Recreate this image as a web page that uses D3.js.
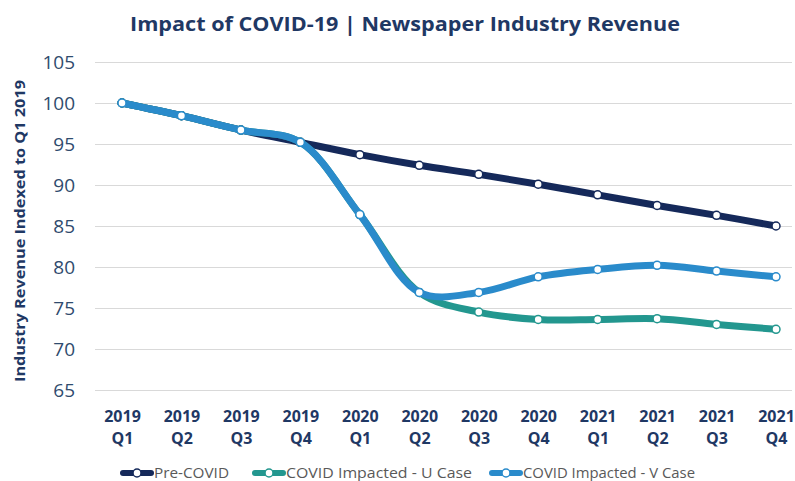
<!DOCTYPE html>
<html><head><meta charset="utf-8">
<script src="https://cdn.jsdelivr.net/npm/d3@7/dist/d3.min.js"></script>
<style>body{margin:0;background:#fff}svg{display:block}</style>
</head><body>
<svg id="chart" width="795" height="481"></svg>
<script>
const categories = ["2019|Q1","2019|Q2","2019|Q3","2019|Q4","2020|Q1","2020|Q2","2020|Q3","2020|Q4","2021|Q1","2021|Q2","2021|Q3","2021|Q4"];
const preCovid = [100, 98.45, 96.7, 95.2, 93.7, 92.4, 91.3, 90.1, 88.8, 87.5, 86.3, 85.0];
const uCase    = [100, 98.45, 96.7, 95.2, 86.4, 76.9, 74.5, 73.6, 73.6, 73.7, 73.0, 72.4];
const vCase    = [100, 98.45, 96.7, 95.2, 86.4, 76.9, 76.9, 78.8, 79.7, 80.2, 79.5, 78.8];
const yTicks   = [65, 70, 75, 80, 85, 90, 95, 100, 105];
const seriesNames = ["Pre-COVID", "COVID Impacted - U Case", "COVID Impacted - V Case"];
const seriesColors = ["#15295a", "#23978f", "#2a8bcb"];
const seriesValues = [preCovid, uCase, vCase];

const svg = d3.select("#chart");
const navy = "#1f3864";

const x = d3.scalePoint().domain(categories).range([122, 776]);
const y = d3.scaleLinear().domain([65, 105]).range([390, 62]);

// title
svg.append("text").attr("x", 405).attr("y", 31).attr("text-anchor", "middle")
  .attr("font-family", "Open Sans").attr("font-weight", 700).attr("font-size", 20)
  .attr("fill", navy).attr("textLength", 550).attr("lengthAdjust", "spacingAndGlyphs")
  .text("Impact of COVID-19 | Newspaper Industry Revenue");

// y axis title
svg.append("text").attr("transform", "translate(25,231) rotate(-90)").attr("text-anchor", "middle")
  .attr("font-family", "Open Sans").attr("font-weight", 700).attr("font-size", 14.5)
  .attr("fill", navy).attr("textLength", 302).attr("lengthAdjust", "spacingAndGlyphs")
  .text("Industry Revenue Indexed to Q1 2019");

// gridlines + y ticks
const yAxis = d3.axisLeft(y).tickValues(yTicks).tickSize(-(792 - 95)).tickPadding(20);
const gy = svg.append("g").attr("transform", "translate(95,0)").call(yAxis);
gy.select(".domain").remove();
gy.selectAll(".tick line").attr("stroke", "#d9d9d9").attr("stroke-width", 1.2);
gy.selectAll(".tick text").attr("font-family", "Open Sans").attr("font-size", 19)
  .attr("fill", "#2f4b6e").attr("x", -20);

// x labels
const xAxis = d3.axisBottom(x).tickSize(0).tickFormat("");
const gx = svg.append("g").attr("transform", "translate(0,390)").call(xAxis);
gx.select(".domain").remove();
gx.selectAll(".tick").each(function(d) {
  const parts = d.split("|");
  const g = d3.select(this);
  g.append("text").attr("y", 32).attr("text-anchor", "middle").attr("font-family", "Open Sans")
    .attr("font-weight", 700).attr("font-size", 16).attr("fill", navy).text(parts[0]);
  g.append("text").attr("y", 54).attr("text-anchor", "middle").attr("font-family", "Open Sans")
    .attr("font-weight", 700).attr("font-size", 16).attr("fill", navy).text(parts[1]);
});

// lines
const line = d3.line().x((d, i) => x(categories[i])).y(d => y(d)).curve(d3.curveCatmullRom.alpha(0.5));
seriesValues.forEach((vals, s) => {
  svg.append("path").datum(vals).attr("d", line).attr("fill", "none")
    .attr("stroke", seriesColors[s]).attr("stroke-width", 7).attr("stroke-linecap", "round");
  svg.append("g").selectAll("circle").data(vals).join("circle")
    .attr("cx", (d, i) => x(categories[i])).attr("cy", d => y(d)).attr("r", 4)
    .attr("fill", "#fff").attr("stroke", seriesColors[s]).attr("stroke-width", 1.5);
});

// legend
const legendX = [120, 252, 489];
const legendW = [75, 186, 172];
const leg = svg.append("g");
seriesNames.forEach((name, s) => {
  const g = leg.append("g").attr("transform", `translate(${legendX[s]},473)`);
  g.append("line").attr("x1", 3).attr("x2", 31).attr("stroke", seriesColors[s]).attr("stroke-width", 6).attr("stroke-linecap", "round");
  g.append("circle").attr("cx", 17).attr("r", 4).attr("fill", "#fff").attr("stroke", seriesColors[s]).attr("stroke-width", 1.5);
  g.append("text").attr("x", 34).attr("y", 5).attr("font-family", "Open Sans").attr("font-size", 14)
    .attr("fill", "#595959").attr("textLength", legendW[s]).attr("lengthAdjust", "spacingAndGlyphs").text(name);
});
</script>
</body></html>
